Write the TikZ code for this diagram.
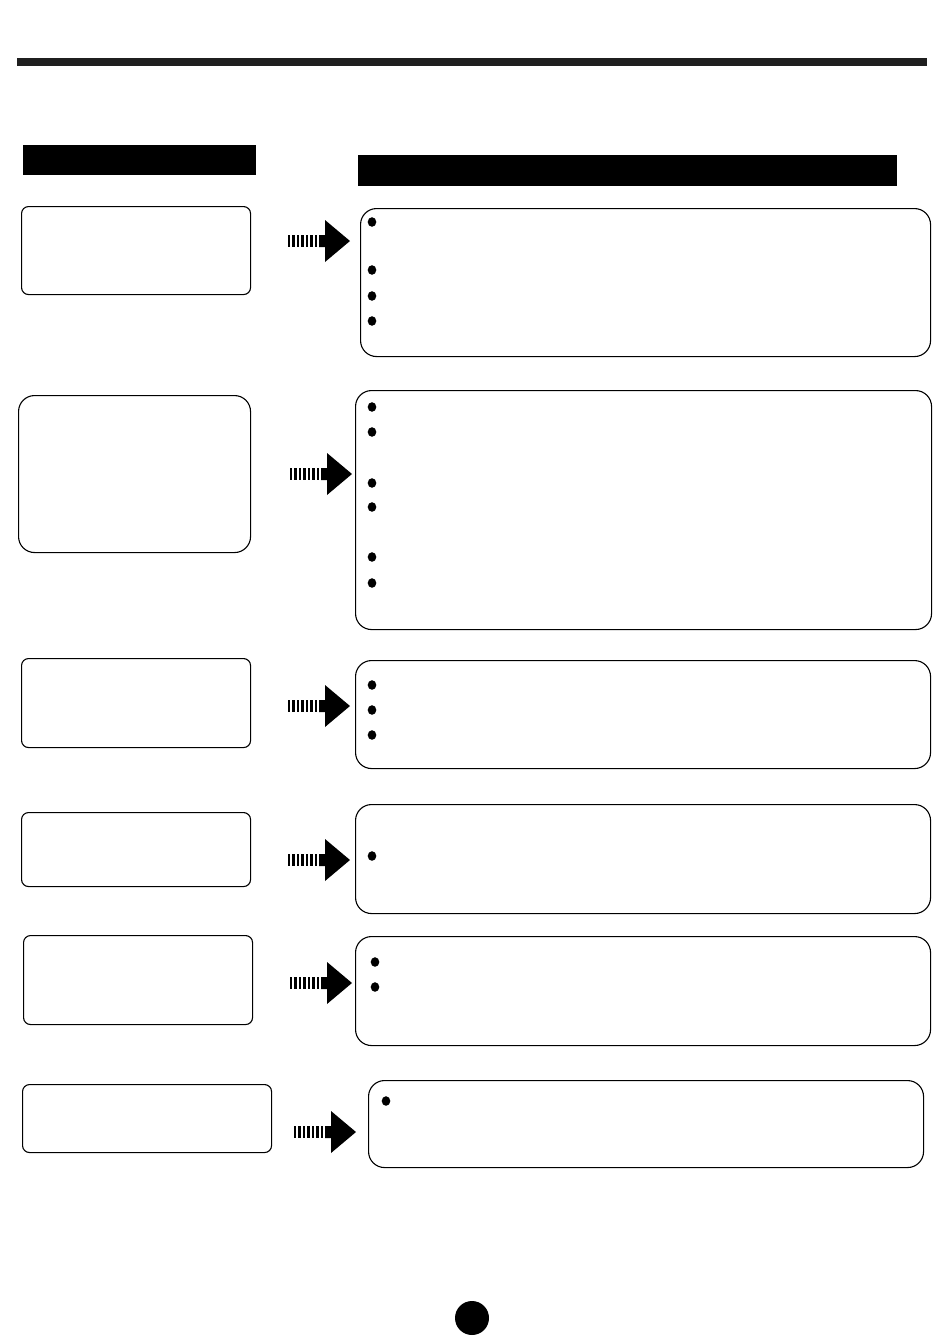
\documentclass[tikz,border=0pt]{standalone}
\begin{document}
\begin{tikzpicture}[x=1pt,y=-1pt,
  leftbox/.style={draw=black,line width=1.1pt,rounded corners=7pt,anchor=north west,inner sep=0pt},
  rightbox/.style={draw=black,line width=1.1pt,rounded corners=16pt,anchor=north west,inner sep=0pt},
  bul/.style={fill=black,ellipse sep},
  hdr/.style={fill=black,draw=none,anchor=north west,inner sep=0pt}]
\useasboundingbox (0,0) rectangle (950,1344);
% top bar
\fill[black!88] (17,58) rectangle (927,66);
% headers
\node[hdr,minimum width=233pt,minimum height=30pt] (hl) at (23,145) {};
\node[hdr,minimum width=539pt,minimum height=31pt] (hr) at (358,155) {};
% left boxes
\node[leftbox,minimum width=229pt,minimum height=88pt] (l1) at (21,206) {};
\node[leftbox,rounded corners=16pt,minimum width=232pt,minimum height=157pt] (l2) at (18,395) {};
\node[leftbox,minimum width=229pt,minimum height=89pt] (l3) at (21,658) {};
\node[leftbox,minimum width=229pt,minimum height=74pt] (l4) at (21,812) {};
\node[leftbox,minimum width=229pt,minimum height=89pt] (l5) at (23,935) {};
\node[leftbox,minimum width=249pt,minimum height=68pt] (l6) at (22,1084) {};
% right boxes
\node[rightbox,minimum width=570pt,minimum height=148pt] (r1) at (360,208) {};
\node[rightbox,minimum width=576pt,minimum height=239pt] (r2) at (355,390) {};
\node[rightbox,minimum width=575pt,minimum height=108pt] (r3) at (355,660) {};
\node[rightbox,minimum width=575pt,minimum height=109pt] (r4) at (355,804) {};
\node[rightbox,minimum width=575pt,minimum height=109pt] (r5) at (355,936) {};
\node[rightbox,minimum width=555pt,minimum height=87pt] (r6) at (368,1080) {};
% arrows
\newcommand\stripedarrow[2]{%
  \foreach \k in {0,...,6}{\fill[black] (#1+\k*4.45,#2-6) rectangle ++(2.4,12);}
  \fill[black] (#1+31,#2-6) -- (#1+37,#2-6) -- (#1+37,#2-21) -- (#1+62,#2)
     -- (#1+37,#2+21) -- (#1+37,#2+6) -- (#1+31,#2+6) -- cycle;}
\stripedarrow{288}{241}
\stripedarrow{290}{474}
\stripedarrow{288}{706}
\stripedarrow{288}{860}
\stripedarrow{290}{983}
\stripedarrow{294}{1132}
% bullets
\foreach \y in {222,270,296,321} {\fill (372,\y) ellipse (4.3pt and 4.8pt);}
\foreach \y in {407,432,483,507,557,583} {\fill (372,\y) ellipse (4.3pt and 4.8pt);}
\foreach \y in {685,710,735} {\fill (372,\y) ellipse (4.3pt and 4.8pt);}
\foreach \y in {856} {\fill (372,\y) ellipse (4.3pt and 4.8pt);}
\foreach \y in {962,987} {\fill (375,\y) ellipse (4.3pt and 4.8pt);}
\foreach \y in {1101} {\fill (386,\y) ellipse (4.3pt and 4.8pt);}
% page dot
\fill (472,1318) circle (17pt);
\end{tikzpicture}
\end{document}
